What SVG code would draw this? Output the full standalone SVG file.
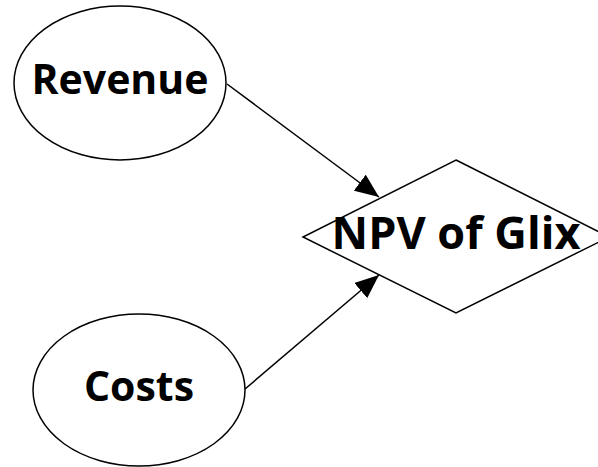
<svg xmlns="http://www.w3.org/2000/svg" width="598" height="467" viewBox="0 0 598 467">
  <defs>
    <style>
      .shape { fill: #ffffff; stroke: #000000; stroke-width: 1.5; }
      .label { font-family: "Open Sans", "DejaVu Sans", sans-serif; font-weight: bold; font-size: 41px; fill: #000000; text-anchor: middle; }
      .big { font-size: 45px; }
      .edge { stroke: #000000; stroke-width: 1.5; fill: none; marker-end: url(#arrowhead); }
    </style>
    <marker id="arrowhead" viewBox="0 0 24 20" refX="24" refY="10" markerWidth="24" markerHeight="20" markerUnits="userSpaceOnUse" orient="auto">
      <path d="M0,0 L24,10 L0,20 z" fill="#000000"/>
    </marker>
  </defs>

  <g id="connectors">
    <line class="edge" x1="227" y1="84" x2="379" y2="197"/>
    <line class="edge" x1="245" y1="389" x2="379" y2="275"/>
  </g>

  <g id="revenue">
    <ellipse class="shape" cx="120" cy="83" rx="106" ry="77"/>
    <text class="label" x="120" y="94">Revenue</text>
  </g>

  <g id="costs">
    <ellipse class="shape" cx="139" cy="390" rx="106" ry="76"/>
    <text class="label" x="139" y="401">Costs</text>
  </g>

  <g id="npv">
    <polygon class="shape" points="456,160 609,237 456,313 303,237"/>
    <text class="label big" x="456" y="249">NPV of Glix</text>
  </g>
</svg>
